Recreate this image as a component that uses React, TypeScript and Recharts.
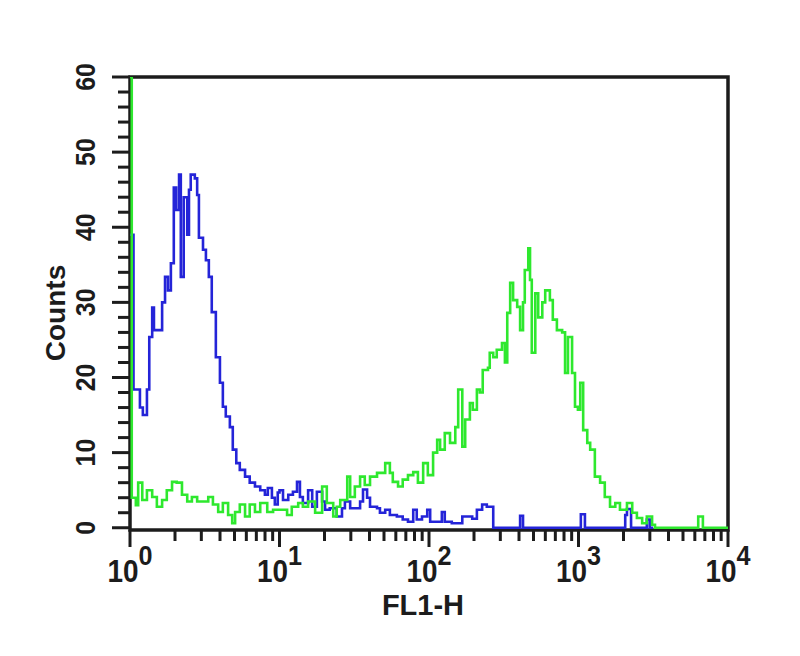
import { LineChart, Line, XAxis, YAxis, ReferenceArea } from "recharts";

// FL1-H histogram, 1024 log channels over 4 decades (256 per decade)
const blueChannel = [
  0, 6, 17, 22, 29, 33, 38, 41, 55, 60, 65, 70, 75, 79, 84, 87, 92, 98, 101, 104,
  111, 115, 118, 125, 130, 135, 140, 147, 154, 159, 164, 171, 176, 182, 188, 197, 205, 214, 223, 231,
  236, 243, 248, 253, 256, 262, 271, 279, 286, 291, 296, 305, 312, 320, 329, 334, 342, 354, 363, 368,
  377, 385, 394, 399, 406, 411, 423, 428, 437, 445, 457, 467, 476, 485, 491, 500, 509, 514, 526, 534,
  539, 551, 560, 569, 577, 586, 594, 603, 611, 622, 668, 673, 772, 779, 848, 851, 858, 885, 890, 896,
];
const blueCount = [
  39, 18.4, 16, 15, 18.4, 25.4, 29.3, 26.3, 30, 33.4, 31.6, 35.2, 45.3, 42.3, 47, 33.4, 44, 39, 45, 47,
  46.5, 44.3, 38.6, 37, 35.6, 33.4, 28.7, 22.7, 19.3, 16.1, 14.8, 13.4, 10.4, 8.6, 7.7, 6.8, 6, 5.5, 5, 4.4,
  5.3, 4, 3.1, 4.7, 5, 3.7, 4.4, 4.8, 6.1, 4.1, 3.3, 5, 2.8, 4.8, 3.5, 2.4, 2.6, 1.5, 2.6, 3.5,
  2.6, 2.6, 3.5, 5.1, 4, 2.8, 2.6, 2, 2.4, 1.7, 1.5, 1.1, 0.8, 2.4, 1.1, 1.5, 2.4, 0.8, 0.8, 2.1,
  0.8, 0.6, 0.6, 1.5, 1.5, 1.2, 2.4, 3.1, 2.8, 0, 1.6, 0, 1.8, 0, 1.7, 2.5, 0, 1.1, 0, 0,
];

const greenChannel = [
  0, 3, 10, 14, 21, 29, 38, 46, 55, 63, 72, 80, 89, 98, 106, 115, 125, 134, 142, 151,
  159, 168, 175, 180, 188, 197, 205, 214, 223, 235, 245, 257, 269, 277, 288, 296, 305, 317, 329, 337,
  348, 354, 360, 372, 377, 385, 394, 402, 411, 423, 437, 445, 450, 459, 467, 476, 485, 493, 502, 510,
  519, 526, 531, 539, 548, 557, 562, 569, 574, 582, 587, 594, 599, 604, 613, 616, 622, 628, 637, 642,
  646, 651, 656, 663, 668, 673, 676, 682, 685, 688, 694, 699, 706, 711, 719, 724, 731, 740, 745, 750,
  757, 762, 767, 771, 776, 783, 788, 796, 805, 813, 822, 831, 839, 851, 860, 868, 877, 885, 894, 899,
  973, 981, 1024,
];
const greenCount = [
  60, 4, 3, 6, 3.7, 5, 4.1, 2.8, 3.7, 5, 6.1, 6, 4.4, 3.5, 4.1, 3.5, 3.5, 4.1, 3.1, 2.1,
  3.3, 1.7, 0.6, 2.1, 3.1, 1.5, 3.1, 2.1, 3.3, 2.1, 2.4, 2.4, 1.7, 2.8, 3.3, 2.8, 3.5, 2, 5.5, 3.3,
  1.5, 2.8, 3.7, 6.8, 4.1, 5.5, 6.8, 5.7, 6.8, 7.3, 8.6, 7.3, 6.1, 5.5, 6.4, 7, 7.4, 6, 8.6, 7,
  10, 11.7, 10.4, 12.6, 11.3, 13.4, 18.4, 10.8, 14.4, 16.6, 15.7, 18.4, 18, 21, 21.3, 23.3, 22.7, 23.7, 24.6, 22,
  28.6, 32.6, 30.3, 29.4, 26.3, 30, 34.3, 37.2, 33, 23.3, 31.2, 28, 30, 31.6, 30.3, 27.7, 26.3, 26, 20.6, 25.4,
  20.6, 16.1, 15.7, 19.3, 13, 11.3, 10.4, 6.8, 6, 4.1, 2.8, 3.3, 2.4, 3.3, 2, 1.3, 0.6, 1.5, 0.4, 0,
  1.5, 0, 0,
];

const decades = [0, 1, 2, 3, 4];
const yTicks = Array.from({ length: 31 }, (_, i) => i * 2);
const CH_PER_DECADE = 256;

const xTicks: number[] = [];
decades.slice(0, 4).forEach((d) => {
  for (let k = 1; k <= 9; k++) xTicks.push(CH_PER_DECADE * (d + Math.log10(k)));
});
xTicks.push(CH_PER_DECADE * 4);

const blueData = blueChannel.map((ch, i) => ({ ch, count: blueCount[i] }));
const greenData = greenChannel.map((ch, i) => ({ ch, count: greenCount[i] }));

// plot frame in svg coords
const LEFT = 122;
const BOTTOM = 522;
const FONT = "'Liberation Sans', Arial, sans-serif";
const INK = "#1c1c1c";

function XTick({ x, payload }: any) {
  const v = payload.value as number;
  const exp = v / CH_PER_DECADE;
  const major = Math.abs(exp - Math.round(exp)) < 1e-6;
  return (
    <g>
      <line x1={x} x2={x} y1={BOTTOM} y2={BOTTOM + (major ? 17 : 11)} stroke={INK} strokeWidth={3} />
      {major && (
        <text
          transform={`translate(${x} 574) scale(0.9 1)`}
          textAnchor="middle"
          fontFamily={FONT}
          fontWeight="bold"
          fontSize={31}
          fill={INK}
        >
          <tspan>10</tspan>
          <tspan dy={-17} fontSize={28}>{Math.round(exp)}</tspan>
        </text>
      )}
    </g>
  );
}

function YTick({ y, payload }: any) {
  const v = payload.value as number;
  const major = v % 10 === 0;
  return (
    <g>
      <line x1={LEFT - (major ? 18 : 12)} x2={LEFT} y1={y} y2={y} stroke={INK} strokeWidth={3} />
      {major && (
        <text
          transform={`translate(78 ${y}) rotate(-90) scale(0.92 1)`}
          textAnchor="middle"
          dominantBaseline="central"
          fontFamily={FONT}
          fontWeight="bold"
          fontSize={27}
          fill={INK}
        >
          {v}
        </text>
      )}
    </g>
  );
}

export default function App() {
  return (
    <div style={{ width: 792, height: 640, background: "#fff" }}>
      <LineChart width={792} height={640} margin={{ top: 69, right: 72, bottom: 18, left: 22 }}>
        <XAxis
          type="number"
          dataKey="ch"
          domain={[0, 1024]}
          ticks={xTicks}
          interval={0}
          allowDataOverflow
          axisLine={false}
          tickLine={false}
          height={100}
          tick={(p: any) => <XTick {...p} />}
          label={{
            content: () => (
              <text x={415} y={607} textAnchor="middle" fontFamily={FONT} fontWeight="bold" fontSize={29} fill={INK}>
                FL1-H
              </text>
            ),
          }}
        />
        <YAxis
          type="number"
          domain={[-0.3, 60]}
          ticks={yTicks}
          interval={0}
          allowDataOverflow
          axisLine={false}
          tickLine={false}
          width={100}
          tick={(p: any) => <YTick {...p} />}
          label={{
            content: () => (
              <text
                transform="translate(47 305) rotate(-90)"
                textAnchor="middle"
                dominantBaseline="central"
                fontFamily={FONT}
                fontWeight="bold"
                fontSize={28}
                fill={INK}
              >
                Counts
              </text>
            ),
          }}
        />
        <Line
          data={blueData}
          dataKey="count"
          type="stepAfter"
          stroke="#2424d8"
          strokeWidth={2.6}
          dot={false}
          isAnimationActive={false}
        />
        <Line
          data={greenData}
          dataKey="count"
          type="stepAfter"
          stroke="#2ee82e"
          strokeWidth={2.6}
          dot={false}
          isAnimationActive={false}
        />
        <ReferenceArea x1={0} x2={1024} y1={-0.3} y2={60} fill="none" stroke={INK} strokeWidth={3.5} />
      </LineChart>
    </div>
  );
}
